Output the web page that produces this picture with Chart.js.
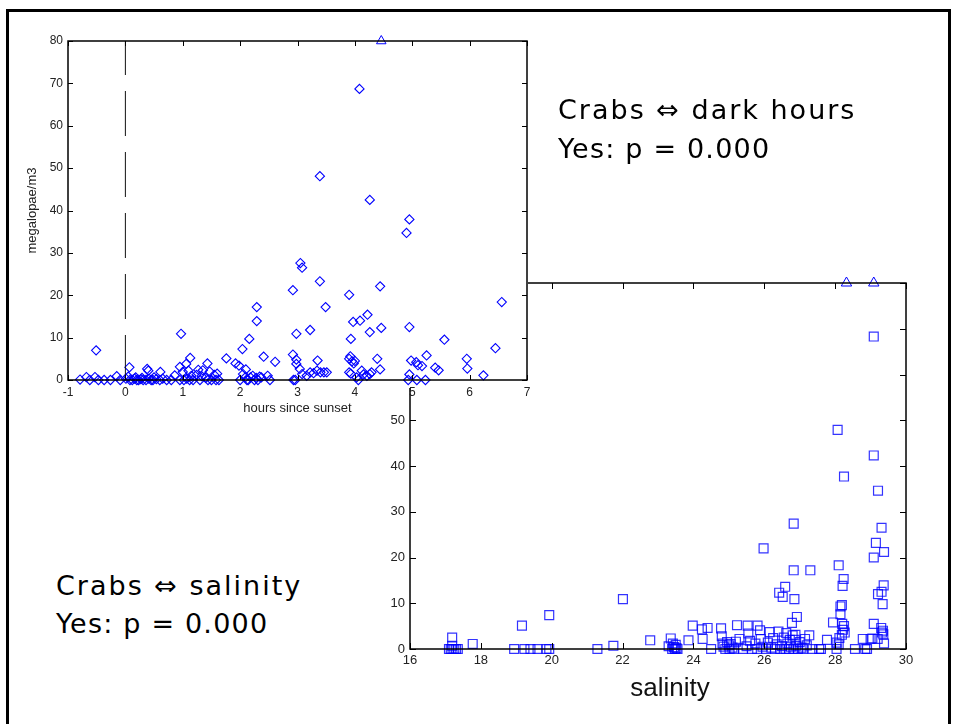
<!DOCTYPE html>
<html>
<head>
<meta charset="utf-8">
<script src="https://cdn.jsdelivr.net/npm/chart.js@4.4.1/dist/chart.umd.min.js"></script>
<style>
  html, body { margin: 0; padding: 0; background: #fff; width: 954px; height: 724px; overflow: hidden; }
  #frame { position: absolute; left: 6px; top: 9px; width: 945px; height: 800px; border: 3px solid #000; box-sizing: border-box; z-index: 5; pointer-events: none; }
  #c2 { position: absolute; left: 340px; top: 260px; z-index: 1; }
  #c1 { position: absolute; left: 0px; top: 0px; z-index: 2; }
  .note { position: absolute; z-index: 3; font-family: "Comic Sans MS", "DejaVu Sans", sans-serif; font-size: 27px; line-height: 39px; color: #000; white-space: nowrap; }
  .note .a { letter-spacing: 2px; }
  .note .b { letter-spacing: 1.2px; }
  #t1 { left: 558px; top: 90px; }
  #t2 { left: 56px; top: 567px; line-height: 38px; }
</style>
</head>
<body>
<div id="frame"></div>
<canvas id="c2" width="614" height="464"></canvas>
<canvas id="c1" width="560" height="430"></canvas>
<div class="note" id="t1"><span class="a">Crabs ⇔ dark hours</span><br><span class="b">Yes: p = 0.000</span></div>
<div class="note" id="t2"><span class="a">Crabs ⇔ salinity</span><br><span class="b">Yes: p = 0.000</span></div>
<script>
// ---- Chart 1: megalopae vs hours since sunset ----
const hoursX = [-0.79,-0.68,-0.62,-0.53,-0.51,-0.47,-0.37,-0.26,-0.15,-0.09,0.01,0.05,0.07,0.08,0.12,0.16,0.18,0.2,0.23,0.27,0.29,0.31,0.36,0.38,0.40,0.41,0.45,0.48,0.5,0.54,0.6,0.61,0.65,0.72,0.8,0.86,0.95,0.95,0.97,1.0,1.02,1.06,1.07,1.1,1.12,1.13,1.15,1.18,1.24,1.27,1.3,1.33,1.35,1.4,1.43,1.44,1.47,1.5,1.55,1.58,1.6,1.63,1.76,1.92,1.98,2.0,2.04,2.05,2.09,2.1,2.12,2.14,2.16,2.18,2.22,2.25,2.28,2.29,2.29,2.31,2.34,2.37,2.41,2.48,2.52,2.61,2.92,2.92,2.93,2.96,2.98,2.98,2.98,3.04,3.05,3.08,3.08,3.16,3.22,3.22,3.28,3.34,3.35,3.39,3.39,3.4,3.46,3.49,3.51,3.9,3.9,3.9,3.92,3.93,3.93,3.95,3.97,3.98,4.0,4.03,4.06,4.08,4.09,4.12,4.15,4.21,4.22,4.26,4.26,4.26,4.29,4.39,4.44,4.44,4.46,4.9,4.93,4.95,4.95,4.95,4.98,5.07,5.08,5.1,5.17,5.23,5.25,5.4,5.46,5.56,5.95,5.96,6.24,6.45,6.56];
const hoursY = [0.1,0.7,0,0.7,7.0,0,0,0,0.9,0,0.3,0.8,3.0,0,0,0.3,0.6,0,0,0.2,0.5,0,0,2.6,2.2,0.3,0,0,0.6,0.2,0,1.9,0.3,0,0,1.1,3.1,0,10.9,1.9,0,3.8,0.3,2.2,0,5.2,1.0,0,1.2,2.4,0,0.9,2.3,0.5,3.9,0,2.0,0,1.2,0,1.5,0,5.1,3.9,3.4,0,7.3,1.4,0.6,2.5,0,0,9.7,0.6,1.0,0,0.5,13.9,17.2,0,0.8,0.6,5.5,1.0,0,4.3,21.2,6.0,0,0,10.9,4.8,3.8,2.6,27.6,26.5,1.4,1.0,11.8,1.8,1.6,2.2,4.6,48.1,23.3,1.8,1.8,17.2,1.8,20.1,1.8,5.0,5.6,9.7,1.5,4.4,13.7,3.9,4.5,0.6,0,68.7,14.0,2.2,1.3,1.0,15.4,42.5,11.3,1.4,1.8,5.0,22.1,2.5,12.3,34.7,0,37.9,12.5,1.3,4.6,4.2,0,3.5,3.3,0,5.8,2.9,2.3,9.5,5.0,2.7,1.1,7.5,18.4];
const hoursOffX = [4.46];     // off-scale value shown at top
const hoursOffY = [80];
const hoursTicksX = [-1,0,1,2,3,4,5,6,7];
const hoursTicksY = [0,10,20,30,40,50,60,70,80];
const sunsetLineX = [0, 0];
const sunsetLineY = [0, 80];

// ---- Chart 2: megalopae vs salinity ----
const salX = [17.1,17.15,17.2,17.25,17.3,17.35,17.19,17.19,17.77,18.94,19.16,19.23,19.4,19.6,19.85,19.93,19.93,21.29,21.74,22.01,22.78,23.3,23.36,23.4,23.42,23.45,23.48,23.5,23.52,23.55,23.86,23.98,24.24,24.26,24.4,24.5,24.78,24.8,24.82,24.85,24.9,24.95,25.0,25.02,25.05,25.1,25.15,25.2,25.23,25.3,25.4,25.5,25.53,25.55,25.6,25.65,25.75,25.8,25.81,25.88,25.9,25.95,25.98,26.05,26.1,26.15,26.2,26.25,26.3,26.35,26.4,26.42,26.45,26.5,26.52,26.55,26.59,26.6,26.62,26.65,26.7,26.72,26.75,26.78,26.8,26.82,26.83,26.83,26.85,26.86,26.88,26.9,26.92,26.95,27.0,27.05,27.1,27.15,27.2,27.27,27.3,27.36,27.55,27.6,27.77,27.94,28.04,28.04,28.07,28.1,28.1,28.12,28.15,28.15,28.19,28.19,28.2,28.21,28.22,28.24,28.25,28.25,28.27,28.56,28.78,28.85,28.9,29.0,29.05,29.09,29.09,29.09,29.09,29.15,29.2,29.21,29.21,29.3,29.31,29.31,29.32,29.34,29.35,29.36,29.37,29.38,29.38];
const salY = [0,0,0,0,0,0,0.7,2.5,1.1,0,5.1,0,0,0,0,0,7.4,0,0.7,10.9,1.9,0.6,2.3,0,1.2,0.4,0,0.9,0.2,0,1.9,5.1,4.3,2.2,4.6,0,4.5,2.8,1.2,0.5,0,1.5,0.8,0,1.1,0.3,0,1.6,5.2,2.2,0,0.6,5.1,3.4,1.8,0,1.2,0,5.1,4.1,2.2,0.5,22.0,0,1.4,3.7,0.3,2.4,0,1.0,3.8,12.3,0,0.6,11.4,2.5,13.6,0,3.5,1.2,0,2.0,0.5,5.7,3.0,0,27.4,17.2,10.9,2.0,3.1,0.7,7.0,0,1.5,0.3,0,2.2,0.8,3.0,17.2,0,0,0,2.0,5.8,1.4,0,47.9,18.3,1.0,2.4,7.6,9.3,9.6,3.1,5.5,13.8,4.2,15.3,37.7,5.0,3.6,0,2.2,0,0,2.2,2.3,68.3,42.3,20.0,5.5,23.2,2.2,34.6,12.0,4.6,26.5,12.5,3.6,9.8,4.0,3.2,13.9,21.2,1.2];
const salOffX = [28.32, 29.09];
const salOffY = [80, 80];
const salTicksX = [16,18,20,22,24,26,28,30];
const salTicksY = [0,10,20,30,40,50,60,70,80];

const pts = (xs, ys) => xs.map((x, i) => ({ x: x, y: ys[i] }));

// inward tick marks + box, drawn through the chart's scales
const boxPlugin = {
  id: 'boxTicks',
  afterDatasetsDraw(chart, args, opts) {
    const { ctx, chartArea: a, scales } = chart;
    const sx = scales.x, sy = scales.y;
    ctx.save();
    ctx.strokeStyle = '#000';
    ctx.lineWidth = opts.width;
    ctx.beginPath();
    sx.ticks.forEach(t => {
      const px = Math.round(sx.getPixelForValue(t.value)) + 0.5;
      ctx.moveTo(px, a.bottom); ctx.lineTo(px, a.bottom - opts.len);
      ctx.moveTo(px, a.top); ctx.lineTo(px, a.top + opts.len);
    });
    sy.ticks.forEach(t => {
      const py = Math.round(sy.getPixelForValue(t.value)) + 0.5;
      ctx.moveTo(a.left, py); ctx.lineTo(a.left + opts.len, py);
      ctx.moveTo(a.right, py); ctx.lineTo(a.right - opts.len, py);
    });
    ctx.stroke();
    ctx.lineWidth = opts.boxWidth;
    ctx.strokeRect(a.left, a.top, a.right - a.left, a.bottom - a.top);
    ctx.restore();
  }
};

// opaque white figure background for the overlaid top chart
const whiteBg = {
  id: 'whiteBg',
  beforeDraw(chart, args, opts) {
    if (!opts.on) return;
    const { ctx, chartArea: a } = chart;
    ctx.save();
    ctx.fillStyle = '#fff';
    ctx.fillRect(12, 14, a.right + 1 - 12, a.bottom + 8 - 14);
    ctx.restore();
  }
};

// the slide's x-axis title sits a little right of the axis centre
const titleShift = {
  id: 'titleShift',
  afterLayout(chart, args, opts) {
    if (opts.dx) chart.scales.x.right += 2 * opts.dx;
  }
};

Chart.register(boxPlugin, whiteBg, titleShift);

const fam = '"Liberation Sans", Arial, sans-serif';
const tickFont1 = { family: fam, size: 12 };
const tickFont2 = { family: fam, size: 13 };

new Chart(document.getElementById('c1'), {
  type: 'scatter',
  data: {
    datasets: [
      { data: pts(sunsetLineX, sunsetLineY), showLine: true, borderColor: '#111', borderWidth: 1,
        borderDash: [45, 16], pointRadius: 0, fill: false, clip: false },
      { data: pts(hoursX, hoursY), pointStyle: 'rectRot', pointRadius: 4.6, borderColor: '#0000ff',
        backgroundColor: 'rgba(0,0,0,0)', borderWidth: 1.1, clip: false },
      { data: pts(hoursOffX, hoursOffY), pointStyle: 'triangle', pointRadius: 5.5, borderColor: '#0000ff',
        backgroundColor: 'rgba(0,0,0,0)', borderWidth: 1, clip: false }
    ]
  },
  options: {
    responsive: false, animation: false, events: [],
    layout: { padding: { left: 0, top: 41, right: 33, bottom: 0 } },
    plugins: { legend: { display: false }, tooltip: { enabled: false }, boxTicks: { len: 5, width: 1, boxWidth: 1.5 }, whiteBg: { on: true }, titleShift: { dx: 0 } },
    scales: {
      x: {
        type: 'linear', min: -1, max: 7,
        afterBuildTicks: s => { s.ticks = hoursTicksX.map(v => ({ value: v })); },
        afterFit: s => { s.height = 50; },
        grid: { display: false, drawTicks: false }, border: { display: false },
        ticks: { font: tickFont1, color: '#222', padding: 5 },
        title: { display: true, text: 'hours since sunset', font: { family: fam, size: 13 }, color: '#222', padding: { top: 0, bottom: 14 } }
      },
      y: {
        type: 'linear', min: 0, max: 80,
        afterBuildTicks: s => { s.ticks = hoursTicksY.map(v => ({ value: v })); },
        afterFit: s => { s.width = 68; },
        grid: { display: false, drawTicks: false }, border: { display: false },
        ticks: { font: tickFont1, color: '#222', padding: 5 },
        title: { display: true, text: 'megalopae/m3', font: { family: fam, size: 13 }, color: '#222', padding: { top: 25, bottom: 0 } }
      }
    }
  }
});

new Chart(document.getElementById('c2'), {
  type: 'scatter',
  data: {
    datasets: [
      { data: pts(salX, salY), pointStyle: 'rect', pointRadius: 6.3, borderColor: 'rgba(0,0,255,0.8)',
        backgroundColor: 'rgba(0,0,0,0)', borderWidth: 1.2, clip: false },
      { data: pts(salOffX, salOffY), pointStyle: 'triangle', pointRadius: 6, borderColor: '#0000ff',
        backgroundColor: 'rgba(0,0,0,0)', borderWidth: 1, clip: false }
    ]
  },
  options: {
    responsive: false, animation: false, events: [],
    layout: { padding: { left: 0, top: 23, right: 48, bottom: 0 } },
    plugins: { legend: { display: false }, tooltip: { enabled: false }, boxTicks: { len: 6, width: 1, boxWidth: 1.5 }, whiteBg: { on: false }, titleShift: { dx: 12 } },
    scales: {
      x: {
        type: 'linear', min: 16, max: 30,
        afterBuildTicks: s => { s.ticks = salTicksX.map(v => ({ value: v })); },
        afterFit: s => { s.height = 75; },
        grid: { display: false, drawTicks: false }, border: { display: false },
        ticks: { font: tickFont2, color: '#222', padding: 4 },
        title: { display: true, text: 'salinity', font: { family: fam, size: 26 }, color: '#111', padding: { top: 0, bottom: 20 } }
      },
      y: {
        type: 'linear', min: 0, max: 80,
        afterBuildTicks: s => { s.ticks = salTicksY.map(v => ({ value: v })); },
        afterFit: s => { s.width = 70; },
        grid: { display: false, drawTicks: false }, border: { display: false },
        ticks: { font: tickFont2, color: '#222', padding: 5 }
      }
    }
  }
});
</script>
</body>
</html>
